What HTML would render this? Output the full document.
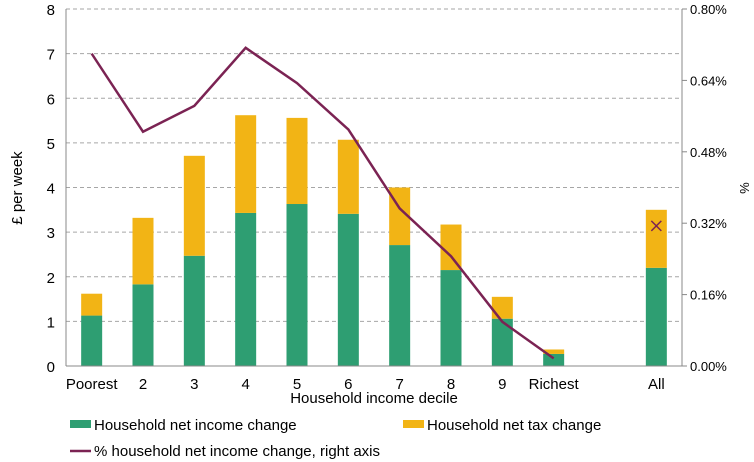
<!DOCTYPE html>
<html><head><meta charset="utf-8"><style>
body{margin:0;background:#fff;}
svg{display:block;font-family:"Liberation Sans",sans-serif;}
</style></head><body>
<svg id="c" width="754" height="462"></svg>
<script>
const categories=["Poorest","2","3","4","5","6","7","8","9","Richest","","All"];
const incomeChange=[1.13,1.83,2.47,3.43,3.63,3.41,2.71,2.15,1.06,0.27,null,2.2];
const totalChange=[1.62,3.32,4.71,5.62,5.56,5.07,4.0,3.17,1.55,0.37,null,3.5];
const pctChange=[0.70,0.525,0.583,0.713,0.634,0.53,0.353,0.246,0.099,0.017];
const pctAll=0.314;
const leftTicks=[0,1,2,3,4,5,6,7,8];
const rightTicks=["0.00%","0.16%","0.32%","0.48%","0.64%","0.80%"];
const NS="http://www.w3.org/2000/svg";
const svg=document.getElementById('c');
const X0=66,X1=682,Y0=366,Y8=9;
const slot=(X1-X0)/categories.length;
const xc=i=>X0+slot*(i+0.5);
const y=v=>Y0-(Y0-Y8)*v/8;
const yp=p=>Y0-(Y0-Y8)*p/0.8;
function el(t,a,txt){const e=document.createElementNS(NS,t);for(const k in a)e.setAttribute(k,a[k]);if(txt!=null)e.textContent=txt;svg.appendChild(e);return e;}
leftTicks.forEach(v=>{
 if(v>0){const g=el('line',{x1:X0,x2:X1,y1:y(v),y2:y(v),stroke:'#a6a6a6','stroke-dasharray':'4,3'});
 
 }
 const t=el('text',{x:55,y:y(v)+6,'text-anchor':'end','font-size':15,fill:'#000'},v);
 
 
});
rightTicks.forEach((s,i)=>{
 const yy=Y0-(Y0-Y8)*i/5;
 const tk=el('line',{x1:X1,x2:X1+5,y1:yy,y2:yy,stroke:'#888'});
 
 
 const t=el('text',{x:690,y:yy+5,'font-size':13,fill:'#000'},s);
 
 
});
categories.forEach((c,i)=>{
 if(incomeChange[i]!=null){
  const g=el('rect',{x:xc(i)-10.5,y:y(incomeChange[i]),width:21,height:Y0-y(incomeChange[i]),fill:'#2e9e72'});
  
  
  const o=el('rect',{x:xc(i)-10.5,y:y(totalChange[i]),width:21,height:y(incomeChange[i])-y(totalChange[i]),fill:'#f2b415'});
  
  
 }
 if(c){const t=el('text',{x:xc(i),y:389,'text-anchor':'middle','font-size':15,fill:'#000'},c);
 
 }
});
const ax=el('line',{x1:X0,x2:X1,y1:Y0,y2:Y0,stroke:'#888'});


const la=el('line',{x1:X0,x2:X0,y1:Y8,y2:Y0,stroke:'#888'});


const ra=el('line',{x1:X1,x2:X1,y1:Y8,y2:Y0,stroke:'#888'});


const pts=pctChange.map((p,i)=>xc(i)+','+yp(p)).join(' ');
const pl=el('polyline',{points:pts,fill:'none',stroke:'#7b2353','stroke-width':2.5});


const ix=xc(11),iy=yp(pctAll);
const m=el('path',{d:`M${ix-5},${iy-5}L${ix+5},${iy+5}M${ix-5},${iy+5}L${ix+5},${iy-5}`,stroke:'#7b2353','stroke-width':1.5});


</script>
<svg style="position:absolute;left:0;top:0" width="754" height="462">
<text x="374" y="403" text-anchor="middle" font-size="15" font-family="Liberation Sans">Household income decile</text>
<text transform="translate(22,188) rotate(-90)" text-anchor="middle" font-size="15" font-family="Liberation Sans">£ per week</text>
<text transform="translate(740,188) rotate(90)" text-anchor="middle" font-size="13" font-family="Liberation Sans">%</text>
<g font-size="15" font-family="Liberation Sans">
<rect x="70" y="420" width="21" height="8" fill="#2e9e72"/>
<text x="94" y="430">Household net income change</text>
<rect x="403" y="420" width="21" height="8" fill="#f2b415"/>
<text x="427" y="430">Household net tax change</text>
<line x1="70" x2="91" y1="451" y2="451" stroke="#7b2353" stroke-width="2.5"/>
<text x="94" y="456">% household net income change, right axis</text>
</g>
</svg>
</body></html>
